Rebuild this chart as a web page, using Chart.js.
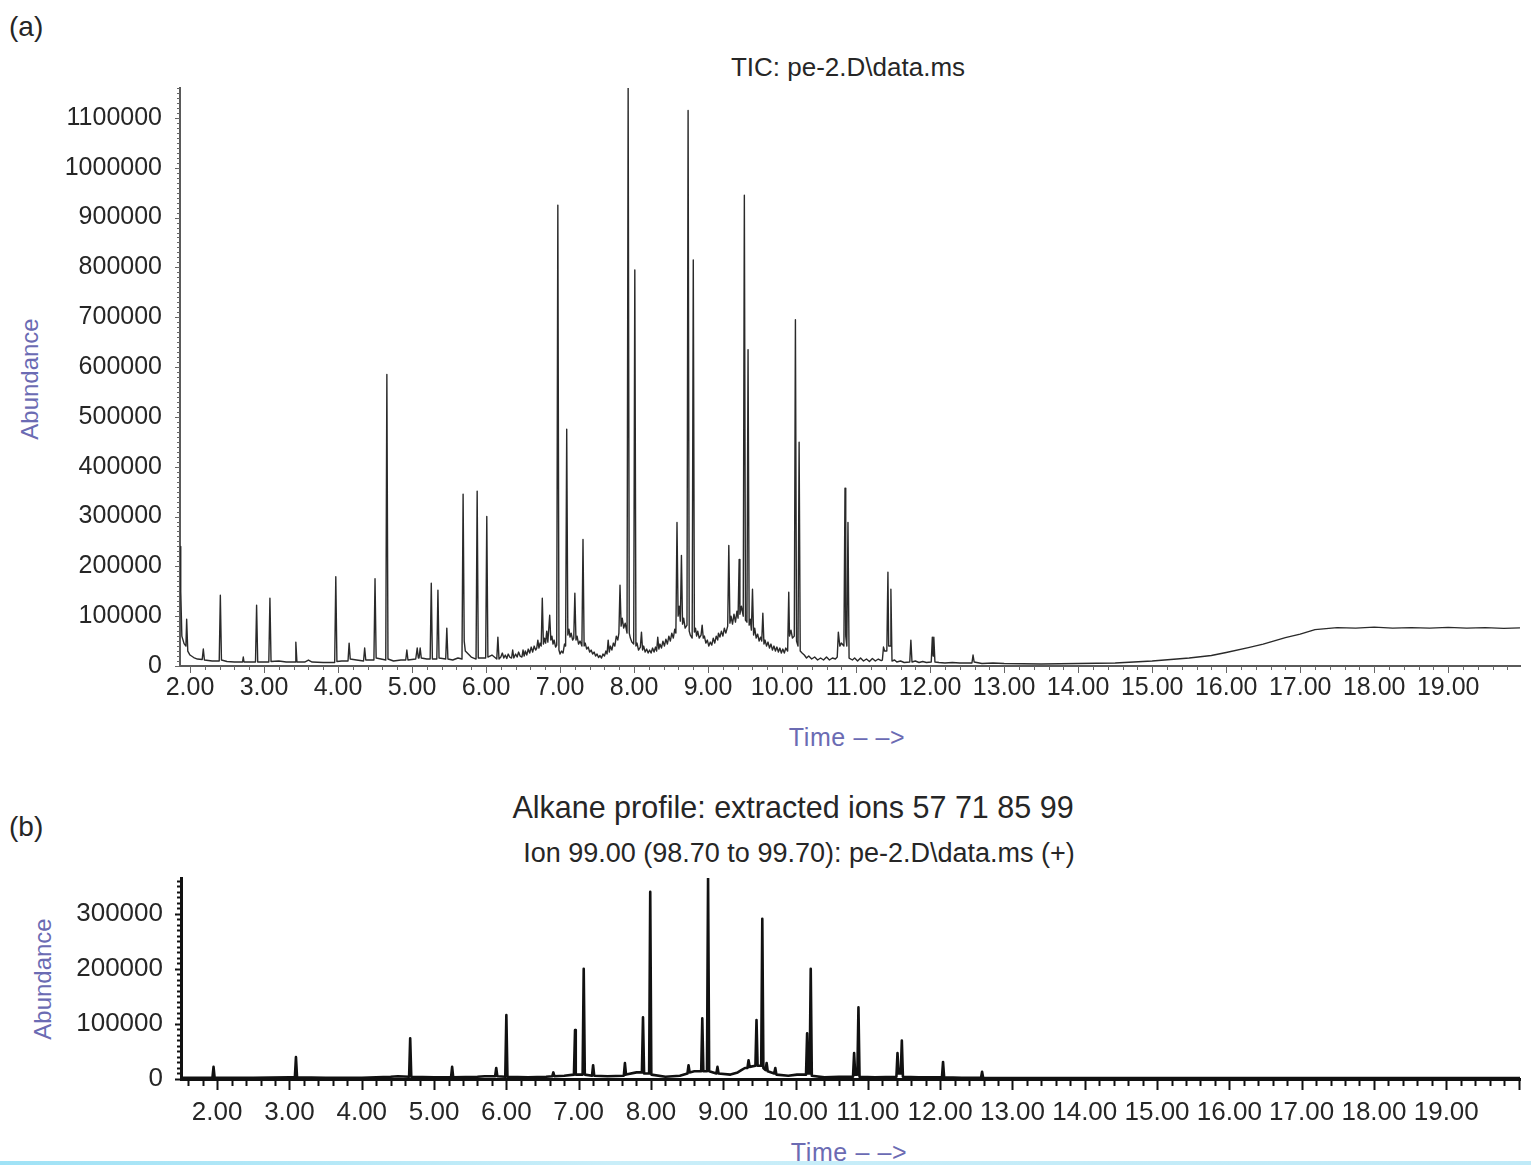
<!DOCTYPE html>
<html>
<head>
<meta charset="utf-8">
<title>TIC and alkane ion profile</title>
<script src="https://cdn.jsdelivr.net/npm/chart.js@4.4.1/dist/chart.umd.min.js"></script>
<style>
  html, body { margin: 0; padding: 0; background: #fff; }
  body {
    width: 1531px; height: 1165px; position: relative; overflow: hidden;
    font-family: "Liberation Sans", Arial, Helvetica, sans-serif; color: #262626;
  }
  canvas { position: absolute; left: 0; }
  #chart-a { top: 0; }
  #chart-b { top: 760px; }
  .txt { position: absolute; white-space: nowrap; line-height: 1; transform: translate(-50%, -50%); }
  .axis-title { color: #6b6bb3; }
  .rot { transform: translate(-50%, -50%) rotate(-90deg); }
  .panel { font-size: 28px; transform: none; }
  .edge { position: absolute; left: 0; top: 1161px; width: 1531px; height: 4px;
    background: linear-gradient(to right, #9fe2f6, #c9eef9 40%, #bfeaf8); }
</style>
</head>
<body>
<div class="txt panel" style="left:9px; top:13px;">(a)</div>
<div class="txt" style="left:848px; top:67px; font-size:26px;">TIC: pe-2.D\data.ms</div>
<div class="txt axis-title rot" style="left:30px; top:379px; font-size:24px;">Abundance</div>
<div class="txt axis-title" style="left:847px; top:737px; font-size:25px; letter-spacing:0.6px;">Time – –&gt;</div>

<div class="txt panel" style="left:9px; top:813px;">(b)</div>
<div class="txt" style="left:793px; top:807px; font-size:30.5px;">Alkane profile: extracted ions 57 71 85 99</div>
<div class="txt" style="left:799px; top:853px; font-size:27px;">Ion 99.00 (98.70 to 99.70): pe-2.D\data.ms (+)</div>
<div class="txt axis-title rot" style="left:43px; top:979px; font-size:24px;">Abundance</div>
<div class="txt axis-title" style="left:849px; top:1152px; font-size:25px; letter-spacing:0.6px;">Time – –&gt;</div>

<canvas id="chart-a" width="1531" height="760"></canvas>
<canvas id="chart-b" width="1531" height="405"></canvas>
<div class="edge"></div>

<script>
// axis ticks
const timeTicks = [2, 3, 4, 5, 6, 7, 8, 9, 10, 11, 12, 13, 14, 15, 16, 17, 18, 19];
const timeTickLabels = ['2.00', '3.00', '4.00', '5.00', '6.00', '7.00', '8.00', '9.00', '10.00',
  '11.00', '12.00', '13.00', '14.00', '15.00', '16.00', '17.00', '18.00', '19.00'];
const ticAbundanceTicks = [0, 100000, 200000, 300000, 400000, 500000, 600000, 700000, 800000,
  900000, 1000000, 1100000];
const ionAbundanceTicks = [0, 100000, 200000, 300000];

// (a) total ion chromatogram (min / abundance), one line per stretch
const ticTime = [
  1.865, 1.875, 1.89, 1.92, 1.945, 1.955, 1.97, 2.00, 2.05, 2.10, 2.165, 2.18, 2.195, 2.30, 2.395, 2.41, 2.425,
  2.50, 2.60, 2.71, 2.72, 2.73, 2.885, 2.90, 2.915, 3.00, 3.065, 3.08, 3.095, 3.20, 3.30, 3.42, 3.43, 3.445,
  3.55, 3.60, 3.65, 3.80, 3.955, 3.97, 3.985, 4.05, 4.135, 4.15, 4.165, 4.25, 4.345, 4.36, 4.375, 4.485, 4.50,
  4.515, 4.58, 4.645, 4.66, 4.675, 4.75, 4.85, 4.915, 4.93, 4.945, 5.05, 5.07, 5.085, 5.095, 5.11, 5.125, 5.20,
  5.245, 5.26, 5.275, 5.335, 5.35, 5.365, 5.455, 5.47, 5.485, 5.55, 5.62, 5.675, 5.69, 5.705, 5.72, 5.80, 5.865,
  5.88, 5.895, 5.995, 6.01, 6.025, 6.08, 6.145, 6.16, 6.175,
  6.20, 6.22, 6.24, 6.26, 6.28, 6.30, 6.32, 6.345, 6.36, 6.375, 6.40, 6.42, 6.44, 6.46, 6.485, 6.50, 6.515,
  6.53, 6.55, 6.57, 6.59, 6.61, 6.63, 6.65, 6.67, 6.685, 6.70, 6.715, 6.73, 6.745, 6.76, 6.775, 6.79, 6.805,
  6.82, 6.835, 6.86, 6.875, 6.89, 6.905, 6.92, 6.94, 6.955, 6.97, 6.985, 7.00, 7.02, 7.04, 7.06, 7.075,
  7.09, 7.105, 7.12, 7.135, 7.15, 7.17, 7.185, 7.20, 7.215, 7.23, 7.25, 7.27, 7.295, 7.31, 7.325, 7.34, 7.36,
  7.38, 7.40, 7.42, 7.44, 7.46, 7.48, 7.50, 7.52, 7.54, 7.56, 7.58, 7.60, 7.62, 7.635, 7.65, 7.665, 7.68,
  7.70, 7.72, 7.74, 7.76, 7.78, 7.795, 7.81, 7.825, 7.84, 7.86, 7.88, 7.905, 7.92, 7.935, 7.95, 7.97, 7.995,
  8.01, 8.025, 8.04, 8.06, 8.085, 8.10, 8.115, 8.13, 8.15, 8.17, 8.19, 8.21, 8.23, 8.25, 8.27, 8.29, 8.305,
  8.32, 8.335, 8.35, 8.37, 8.39, 8.41, 8.43, 8.45, 8.47, 8.49, 8.51, 8.53, 8.55, 8.565, 8.58, 8.595, 8.61,
  8.625, 8.64, 8.655, 8.67, 8.69, 8.715, 8.73, 8.745, 8.76, 8.785, 8.80, 8.815, 8.83, 8.845, 8.86, 8.88, 8.905,
  8.92, 8.935, 8.95, 8.97, 8.99, 9.01, 9.03, 9.05, 9.07, 9.09, 9.11, 9.13, 9.14, 9.16, 9.18, 9.20, 9.22,
  9.24, 9.265, 9.28, 9.295, 9.31, 9.33, 9.35, 9.37, 9.39, 9.405, 9.42, 9.43, 9.45, 9.475, 9.49, 9.505, 9.525,
  9.54, 9.555, 9.57, 9.585, 9.60, 9.615, 9.63, 9.65, 9.67, 9.69, 9.71, 9.725, 9.74, 9.755, 9.77, 9.79, 9.81,
  9.83, 9.85, 9.87, 9.89, 9.91, 9.93, 9.95, 9.97, 9.99, 10.01, 10.03, 10.05, 10.075, 10.09, 10.10, 10.12, 10.14,
  10.165, 10.18, 10.195, 10.215, 10.23, 10.245, 10.27, 10.30, 10.33, 10.36, 10.40, 10.44, 10.48, 10.52, 10.56,
  10.60, 10.64, 10.68, 10.72, 10.745, 10.76, 10.78, 10.80, 10.835, 10.85, 10.86, 10.875, 10.89, 10.905, 10.95,
  10.98, 11.02, 11.06, 11.10, 11.14, 11.18, 11.22, 11.26, 11.30, 11.34, 11.355, 11.37, 11.385, 11.415, 11.43,
  11.44, 11.46, 11.47, 11.485, 11.52, 11.55, 11.60, 11.65, 11.725, 11.74, 11.755, 11.80, 11.85, 11.90, 11.95,
  12.015, 12.03, 12.04, 12.05, 12.065, 12.12, 12.20, 12.30, 12.40, 12.50, 12.565, 12.58, 12.595, 12.70, 12.85,
  13.00, 13.50, 14.00, 14.50, 15.00, 15.50, 15.80, 16.00, 16.30, 16.50, 16.80, 17.00, 17.20,
  17.50, 17.75, 18.00, 18.25, 18.50, 18.75, 19.00, 19.25, 19.50, 19.75, 19.97
];
const ticAbundance = [
  240000, 150000, 60000, 45000, 40000, 94000, 30000, 22000, 17000, 14000, 13000, 34000, 12000, 10000, 10000, 142000, 12000,
  9000, 8000, 8000, 18000, 8000, 8000, 122000, 8000, 8000, 8000, 136000, 9000, 10000, 8000, 8000, 48000, 8000,
  8000, 12000, 8000, 7000, 7000, 179000, 9000, 10000, 10000, 46000, 14000, 12000, 10000, 36000, 12000, 12000, 175000,
  16000, 14000, 12000, 585000, 14000, 10000, 12000, 12000, 32000, 12000, 14000, 36000, 16000, 16000, 36000, 16000, 14000,
  14000, 166000, 14000, 14000, 152000, 16000, 14000, 76000, 14000, 12000, 16000, 14000, 345000, 50000, 30000, 18000, 14000,
  351000, 16000, 16000, 300000, 18000, 22000, 14000, 58000, 14000,
  18000, 26000, 16000, 22000, 15000, 24000, 18000, 16000, 32000, 16000, 24000, 18000, 28000, 20000, 18000, 32000, 20000,
  30000, 22000, 34000, 26000, 38000, 28000, 40000, 32000, 36000, 52000, 36000, 46000, 40000, 136000, 44000, 56000, 46000,
  70000, 48000, 102000, 52000, 60000, 44000, 52000, 38000, 42000, 925000, 32000, 24000, 30000, 26000, 44000, 40000,
  475000, 62000, 74000, 58000, 66000, 52000, 56000, 146000, 52000, 60000, 44000, 50000, 40000, 254000, 40000, 46000, 34000,
  38000, 28000, 32000, 24000, 28000, 20000, 24000, 17000, 21000, 16000, 24000, 20000, 30000, 24000, 52000, 28000, 40000,
  32000, 46000, 40000, 60000, 52000, 66000, 162000, 80000, 96000, 76000, 86000, 66000, 1160000, 66000, 56000, 48000, 44000,
  795000, 40000, 46000, 32000, 38000, 68000, 32000, 40000, 28000, 34000, 26000, 32000, 26000, 36000, 28000, 38000, 30000,
  58000, 34000, 44000, 36000, 50000, 40000, 54000, 44000, 60000, 50000, 66000, 56000, 74000, 66000, 288000, 100000, 120000,
  90000, 222000, 84000, 96000, 76000, 82000, 1115000, 70000, 62000, 56000, 815000, 68000, 76000, 60000, 70000, 56000, 62000,
  82000, 56000, 60000, 46000, 52000, 40000, 48000, 42000, 56000, 46000, 60000, 52000, 66000, 58000, 70000, 60000, 76000,
  66000, 80000, 242000, 86000, 100000, 84000, 104000, 88000, 110000, 96000, 214000, 104000, 120000, 100000, 945000, 92000, 88000,
  635000, 82000, 94000, 72000, 154000, 62000, 76000, 56000, 64000, 50000, 58000, 50000, 106000, 44000, 52000, 40000, 48000,
  36000, 44000, 32000, 40000, 30000, 38000, 28000, 36000, 26000, 34000, 26000, 36000, 30000, 148000, 60000, 72000, 56000,
  60000, 695000, 50000, 40000, 449000, 30000, 26000, 22000, 16000, 20000, 14000, 18000, 12000, 16000, 12000,
  18000, 12000, 16000, 14000, 18000, 68000, 40000, 46000, 40000, 357000, 60000, 40000, 288000, 16000, 12000,
  16000, 10000, 16000, 10000, 14000, 9000, 15000, 10000, 14000, 11000, 12000, 38000, 30000, 30000, 188000,
  40000, 40000, 154000, 10000, 12000, 8000, 10000, 7000, 8000, 52000, 8000, 10000, 7000, 9000, 7000,
  8000, 58000, 20000, 58000, 8000, 7000, 6000, 7000, 6000, 6000, 6000, 22000, 8000, 5000, 6000,
  5000, 4000, 5000, 6000, 10000, 16000, 21000, 27000, 37000, 44000, 57000, 64000, 73000,
  77000, 76000, 78000, 76000, 77000, 76000, 77500, 76000, 77000, 75500, 76500
];

// (b) extracted ion 99 profile
const ionTime = [
  1.50, 1.935, 1.95, 1.965, 2.50, 3.00, 3.075, 3.09, 3.105, 3.50, 4.00, 4.40, 4.50, 4.655, 4.67, 4.685, 5.00,
  5.235, 5.25, 5.265, 5.60, 5.70, 5.845, 5.86, 5.875, 5.985, 6.00, 6.015, 6.30, 6.55, 6.635, 6.65, 6.665, 6.80,
  6.935, 6.95, 6.96, 7.055, 7.07, 7.085, 7.185, 7.20, 7.215, 7.40, 7.625, 7.64, 7.655, 7.80, 7.875, 7.89, 7.905,
  7.975, 7.99, 8.005, 8.20, 8.40, 8.505, 8.52, 8.535, 8.60, 8.695, 8.71, 8.725, 8.775, 8.79, 8.805, 8.905, 8.92,
  8.935, 9.10, 9.20, 9.25, 9.30, 9.335, 9.35, 9.365, 9.445, 9.46, 9.475, 9.525, 9.54, 9.555, 9.585, 9.60, 9.615,
  9.705, 9.72, 9.735, 9.90, 10.02, 10.145, 10.16, 10.175, 10.195, 10.21, 10.225, 10.40, 10.60, 10.795, 10.81,
  10.825, 10.855, 10.87, 10.885, 11.10, 11.395, 11.41, 11.425, 11.455, 11.47, 11.485, 11.70, 12.025, 12.04,
  12.055, 12.30, 12.565, 12.58, 12.595, 13.00, 20.02
];
const ionAbundance = [
  2000, 2000, 22000, 2000, 2000, 3000, 3000, 40000, 3000, 2000, 2000, 4000, 5000, 4000, 74000, 4000, 3000,
  3000, 22000, 3000, 4000, 5000, 5000, 20000, 5000, 4000, 116000, 4000, 3000, 4000, 5000, 12000, 5000, 6000,
  8000, 89000, 8000, 8000, 200000, 8000, 6000, 25000, 6000, 5000, 6000, 29000, 8000, 12000, 12000, 112000, 10000,
  10000, 340000, 8000, 4000, 6000, 10000, 25000, 12000, 14000, 14000, 110000, 14000, 14000, 365000, 14000, 10000, 22000,
  10000, 8000, 12000, 16000, 20000, 20000, 34000, 22000, 24000, 107000, 24000, 24000, 291000, 20000, 16000, 29000, 14000,
  10000, 20000, 8000, 6000, 8000, 8000, 83000, 10000, 10000, 200000, 6000, 3000, 4000, 4000, 47000,
  8000, 8000, 130000, 4000, 3000, 4000, 47000, 10000, 10000, 70000, 4000, 3000, 3000, 31000,
  3000, 2000, 2000, 13000, 2000, 1500, 1500
];

const FONT = '"Liberation Sans", Arial, Helvetica, sans-serif';

// small tick marks between the labelled ones
const minorTicks = {
  id: 'minorTicks',
  afterDraw(chart, args, opts) {
    const { ctx } = chart;
    const xs = chart.scales.x;
    const ys = chart.scales.y;
    ctx.save();
    ctx.strokeStyle = opts.color;
    ctx.lineWidth = opts.width;
    ctx.beginPath();
    const first = Math.ceil(xs.min / opts.xStep - 1e-9);
    for (let i = first; i * opts.xStep <= xs.max + 1e-9; i++) {
      const px = Math.round(xs.getPixelForValue(i * opts.xStep)) + 0.5;
      const len = i % opts.xPerMajor === 0 ? opts.xMajor : opts.xMinor;
      ctx.moveTo(px, xs.top);
      ctx.lineTo(px, xs.top + len);
    }
    for (let i = 0; i * opts.yStep <= ys.max; i++) {
      const py = Math.round(ys.getPixelForValue(i * opts.yStep)) + 0.5;
      const len = i % opts.yPerMajor === 0 ? opts.yMajor : opts.yMinor;
      ctx.moveTo(ys.right, py);
      ctx.lineTo(ys.right - len, py);
    }
    ctx.stroke();
    ctx.restore();
  }
};

function makeChart(id, cfg) {
  const points = cfg.times.map((t, i) => ({ x: t, y: cfg.values[i] }));
  return new Chart(document.getElementById(id), {
    type: 'line',
    data: {
      datasets: [{
        data: points,
        borderColor: cfg.lineColor,
        borderWidth: cfg.lineWidth,
        borderJoinStyle: 'round',
        pointRadius: 0,
        tension: 0,
        fill: false
      }]
    },
    options: {
      responsive: false,
      animation: false,
      devicePixelRatio: 1,
      layout: { padding: { left: 0, top: cfg.top, right: 11, bottom: 0 }, autoPadding: false },
      plugins: {
        legend: { display: false },
        tooltip: { enabled: false },
        minorTicks: cfg.minor
      },
      scales: {
        x: {
          type: 'linear',
          min: cfg.xMin,
          max: cfg.xMax,
          afterBuildTicks: (s) => { s.ticks = timeTicks.map((v) => ({ value: v })); },
          afterFit: (s) => { s.height = cfg.xHeight; },
          ticks: {
            autoSkip: false,
            maxRotation: 0,
            padding: cfg.xPad,
            color: '#262626',
            font: { family: FONT, size: cfg.xFont },
            callback: (v) => timeTickLabels[timeTicks.indexOf(v)]
          },
          grid: { display: false, drawTicks: false, tickLength: 0 },
          border: { display: true, color: cfg.axisColor, width: cfg.axisWidth }
        },
        y: {
          type: 'linear',
          min: 0,
          max: cfg.yMax,
          afterBuildTicks: (s) => { s.ticks = cfg.yTicks.map((v) => ({ value: v })); },
          afterFit: (s) => { s.width = cfg.yWidth; },
          ticks: {
            padding: 18,
            color: '#262626',
            font: { family: FONT, size: cfg.yFont },
            callback: (v) => String(v)
          },
          grid: { display: false, drawTicks: false, tickLength: 0 },
          border: { display: true, color: cfg.axisColor, width: cfg.axisWidth }
        }
      }
    },
    plugins: [minorTicks]
  });
}

makeChart('chart-a', {
  times: ticTime,
  values: ticAbundance,
  lineColor: '#2a2a2a',
  lineWidth: 1.4,
  top: 88,
  xMin: 1.865,
  xMax: 19.97,
  xHeight: 94,
  xPad: 7,
  xFont: 25,
  yMax: 1160000,
  yTicks: ticAbundanceTicks,
  yWidth: 180,
  yFont: 25,
  axisColor: '#5a5a5a',
  axisWidth: 2,
  minor: { color: '#666', width: 1, xStep: 0.2, xPerMajor: 5, xMajor: 7, xMinor: 4,
    yStep: 10000, yPerMajor: 10, yMajor: 5, yMinor: 3 }
});

makeChart('chart-b', {
  times: ionTime,
  values: ionAbundance,
  lineColor: '#111',
  lineWidth: 2.6,
  top: 118,
  xMin: 1.50,
  xMax: 20.02,
  xHeight: 86,
  xPad: 18,
  xFont: 26,
  yMax: 365000,
  yTicks: ionAbundanceTicks,
  yWidth: 181,
  yFont: 26,
  axisColor: '#111',
  axisWidth: 3,
  minor: { color: '#111', width: 2, xStep: 0.2, xPerMajor: 5, xMajor: 11, xMinor: 7,
    yStep: 10000, yPerMajor: 10, yMajor: 6, yMinor: 4 }
});
</script>
</body>
</html>
